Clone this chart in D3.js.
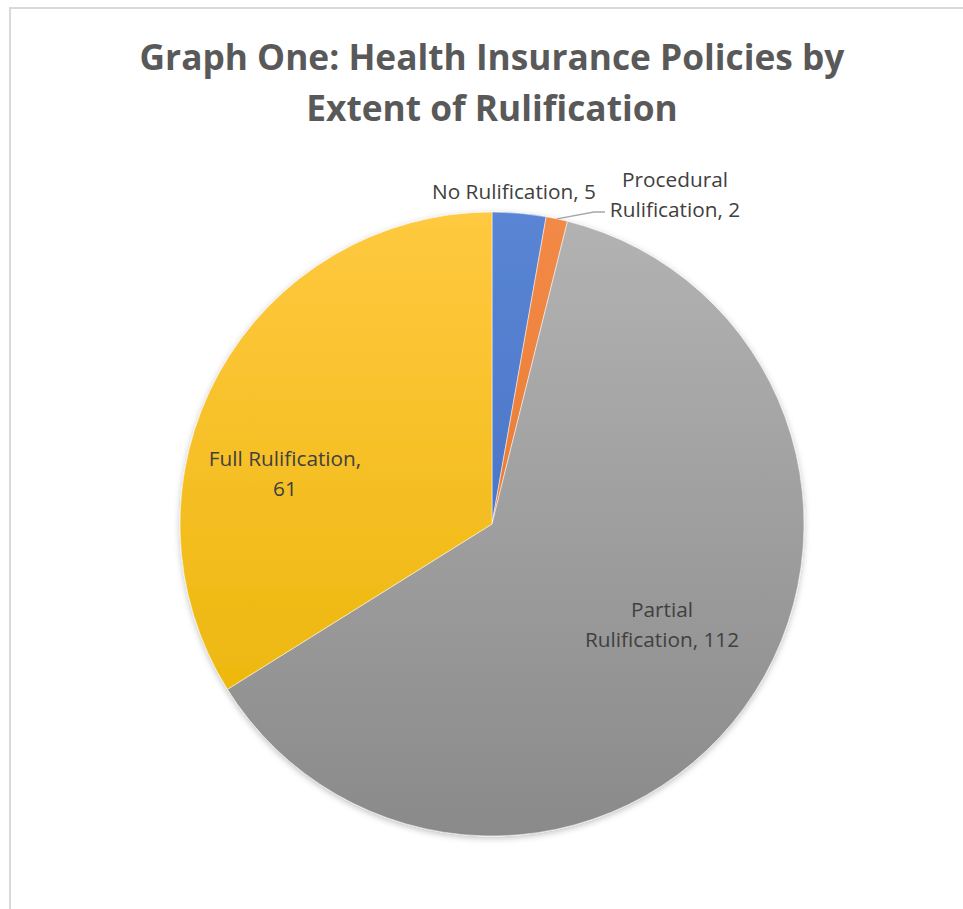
<!DOCTYPE html>
<html><head><meta charset="utf-8">
<script src="https://cdn.jsdelivr.net/npm/d3@7"></script>
<style>body{margin:0;background:#fff;} svg{display:block;}</style>
</head><body>
<svg id="c" width="963" height="909"></svg>
<script>
const categories = ["No Rulification", "Procedural Rulification", "Partial Rulification", "Full Rulification"];
const values = [5, 2, 112, 61];
const titleLines = ["Graph One: Health Insurance Policies by", "Extent of Rulification"];
const labelLines = [["No Rulification, 5"], ["Procedural", "Rulification, 2"], ["Partial", "Rulification, 112"], ["Full Rulification,", "61"]];
const colorsTop = ["#5a85d4", "#f28a47", "#b3b3b3", "#ffc940"];
const colorsBot = ["#3d68bf", "#e27024", "#8a8a8a", "#e8b200"];

const svg = d3.select("#c");
const cx = 492, cy = 524, R = 312;

svg.append("rect").attr("x", 10).attr("y", 8).attr("width", 1000).attr("height", 1000)
  .attr("fill", "#fff").attr("stroke", "#d9d9d9").attr("stroke-width", 2);

const defs = svg.append("defs");
categories.forEach((c, i) => {
  const g = defs.append("linearGradient").attr("id", "g" + i)
    .attr("gradientUnits", "userSpaceOnUse")
    .attr("x1", 0).attr("y1", -R).attr("x2", 0).attr("y2", R);
  g.append("stop").attr("offset", "0%").attr("stop-color", colorsTop[i]);
  g.append("stop").attr("offset", "100%").attr("stop-color", colorsBot[i]);
});
const f = defs.append("filter").attr("id", "sh").attr("x", "-10%").attr("y", "-10%").attr("width", "120%").attr("height", "120%");
f.append("feDropShadow").attr("dx", 0).attr("dy", 2).attr("stdDeviation", 3).attr("flood-color", "#000").attr("flood-opacity", 0.25);

// title
const titleFontFamily = "Open Sans, sans-serif";
const tg = svg.append("g");
const t1 = tg.append("text").attr("x", 492).attr("y", 70).attr("text-anchor", "middle")
  .attr("font-family", titleFontFamily).attr("font-weight", "bold").attr("font-size", 36)
  .attr("fill", "#595959").text(titleLines[0]);
const w = t1.node().getComputedTextLength();
const fs = 36 * 705 / w;
t1.attr("font-size", fs);
tg.append("text").attr("x", 492).attr("y", 121).attr("text-anchor", "middle")
  .attr("font-family", titleFontFamily).attr("font-weight", "bold").attr("font-size", fs)
  .attr("fill", "#595959").text(titleLines[1]);

const pie = d3.pie().sort(null).value(d => d)(values);
const arc = d3.arc().innerRadius(0).outerRadius(R);
const pg = svg.append("g").attr("transform", `translate(${cx},${cy})`).attr("filter", "url(#sh)");
pg.selectAll("path").data(pie).join("path")
  .attr("d", arc)
  .attr("fill", (d, i) => `url(#g${i})`)
  .attr("stroke", "#fff").attr("stroke-width", 0.5);

// labels
const lg = svg.append("g").attr("font-family", "Open Sans, sans-serif").attr("fill", "#404040");
const probe = lg.append("text").attr("font-size", 20).text(labelLines[0][0]);
const lfs = 20 * 164 / probe.node().getComputedTextLength();
probe.remove();
const labelPos = [[514, 199], [675, 187], [662, 617], [285, 466]];
labelLines.forEach((lines, i) => {
  const t = lg.append("text").attr("text-anchor", "middle").attr("font-size", lfs);
  lines.forEach((l, j) => {
    t.append("tspan").attr("x", labelPos[i][0]).attr("y", labelPos[i][1] + j * 30).text(l);
  });
});
// leader line for Procedural
const mid = (pie[1].startAngle + pie[1].endAngle) / 2;
const px = cx + Math.sin(mid) * R, py = cy - Math.cos(mid) * R;
svg.append("polyline").attr("points", `${px},${py} 594,212 605,212`)
  .attr("fill", "none").attr("stroke", "#a6a6a6").attr("stroke-width", 1.3);
</script>
</body></html>
